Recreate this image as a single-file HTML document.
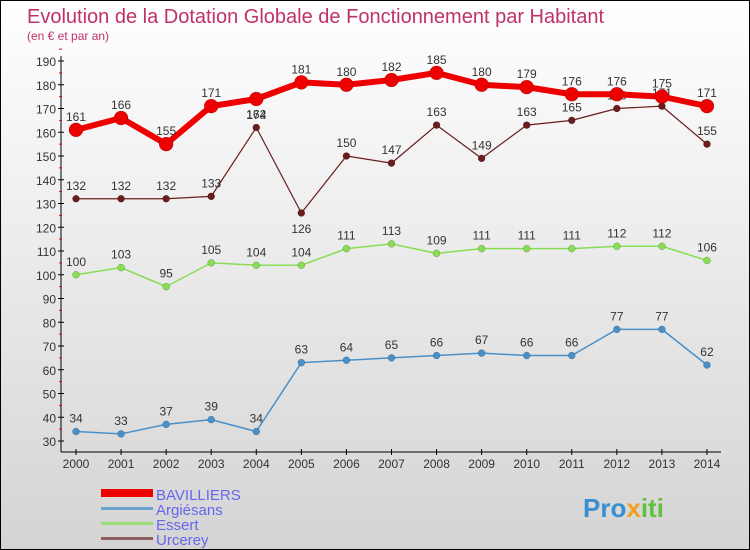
<!DOCTYPE html>
<html><head><meta charset="utf-8"><style>
body{margin:0;}
#c{width:750px;height:550px;position:relative;background:linear-gradient(#ffffff,#d4d4d4);border:1px solid #000;box-sizing:border-box;overflow:hidden;font-family:"Liberation Sans",sans-serif;}
</style></head><body>
<div id="c">
<svg id="s" width="748" height="548" style="position:absolute;left:0;top:0">
<text x="26" y="22" font-size="20" fill="#c0306a">Evolution de la Dotation Globale de Fonctionnement par Habitant</text>
<text x="26" y="39" font-size="12" fill="#c0306a">(en € et par an)</text>
<g id="ax"></g><g id="marks"></g>
<g>
<rect x="100" y="488" width="52" height="8" fill="#e00"/>
<text x="155" y="499" font-size="15" fill="#6666ee">BAVILLIERS</text>
<rect x="100" y="506" width="52" height="3" fill="#6aa3cc"/>
<text x="155" y="514" font-size="15" fill="#6666ee">Argiésans</text>
<rect x="100" y="521" width="52" height="3" fill="#99dd77"/>
<text x="155" y="529" font-size="15" fill="#6666ee">Essert</text>
<rect x="100" y="536" width="52" height="3" fill="#8b5e5e"/>
<text x="155" y="544" font-size="15" fill="#6666ee">Urcerey</text>
</g>
<text x="582" y="516" font-size="26" font-weight="bold" fill="#3a8fd0">Pro<tspan fill="#f0a020">x</tspan><tspan fill="#60c040">iti</tspan></text>
</svg></div>
<script>
const years=[2000,2001,2002,2003,2004,2005,2006,2007,2008,2009,2010,2011,2012,2013,2014];
const bavilliers=[161,166,155,171,174,181,180,182,185,180,179,176,176,175,171];
const argiesans=[34,33,37,39,34,63,64,65,66,67,66,66,77,77,62];
const essert=[100,103,95,105,104,104,111,113,109,111,111,111,112,112,106];
const urcerey=[132,132,132,133,162,126,150,147,163,149,163,165,170,171,155];
const yTicks=[30,40,50,60,70,80,90,100,110,120,130,140,150,160,170,180,190];
const NS="http://www.w3.org/2000/svg";
const X=i=>75+i*45.07, Y=v=>440-(v-30)*2.375;
const ax=document.getElementById('ax'),mk=document.getElementById('marks');
function el(t,a,p){const e=document.createElementNS(NS,t);for(const k in a)e.setAttribute(k,a[k]);p.appendChild(e);return e;}
let e=el('line',{x1:60,y1:55,x2:60,y2:451,stroke:'#000'},ax);


e=el('line',{x1:60,y1:451,x2:720,y2:451,stroke:'#000'},ax);


yTicks.forEach(v=>{el('line',{x1:57,x2:63,y1:Y(v),y2:Y(v),stroke:'#000'},ax);
 el('line',{x1:58,x2:61,y1:Y(v+5),y2:Y(v+5),stroke:'#e00'},ax);
 const t=el('text',{x:55,y:Y(v)+5,'font-size':12,fill:'#333','text-anchor':'end'},ax);t.textContent=v;
 
 });
years.forEach((y,i)=>{el('line',{x1:X(i),x2:X(i),y1:448,y2:454,stroke:'#000'},ax);
 const t=el('text',{x:X(i),y:467,'font-size':12,fill:'#333','text-anchor':'middle'},ax);t.textContent=y;
 
 });
function series(d,name,color,w,r,below){
 const g=el('g',{},mk);
 
 
 el('polyline',{points:d.map((v,i)=>X(i)+','+Y(v)).join(' '),fill:'none',stroke:color,'stroke-width':w,'stroke-linejoin':'round'},g);
 d.forEach((v,i)=>{const c=el('circle',{cx:X(i),cy:Y(v),r:r,fill:color,stroke:'rgba(0,0,0,0.3)','stroke-width':0.5},g);
  
  
  const t=el('text',{x:X(i),y:below&&below(i)?Y(v)+20:Y(v)-9,'font-size':12,fill:'#333','text-anchor':'middle'},g);t.textContent=v;
  
  });
}
series(argiesans,'argiesans','#4a90c8',1.5,3.5);
series(essert,'essert','#88dd55',1.5,3.5);
series(urcerey,'urcerey','#6b1c1c',1.2,3.5,i=>i==5);
series(bavilliers,'bavilliers','#ee0000',6,7,i=>i==4);
</script></body></html>
